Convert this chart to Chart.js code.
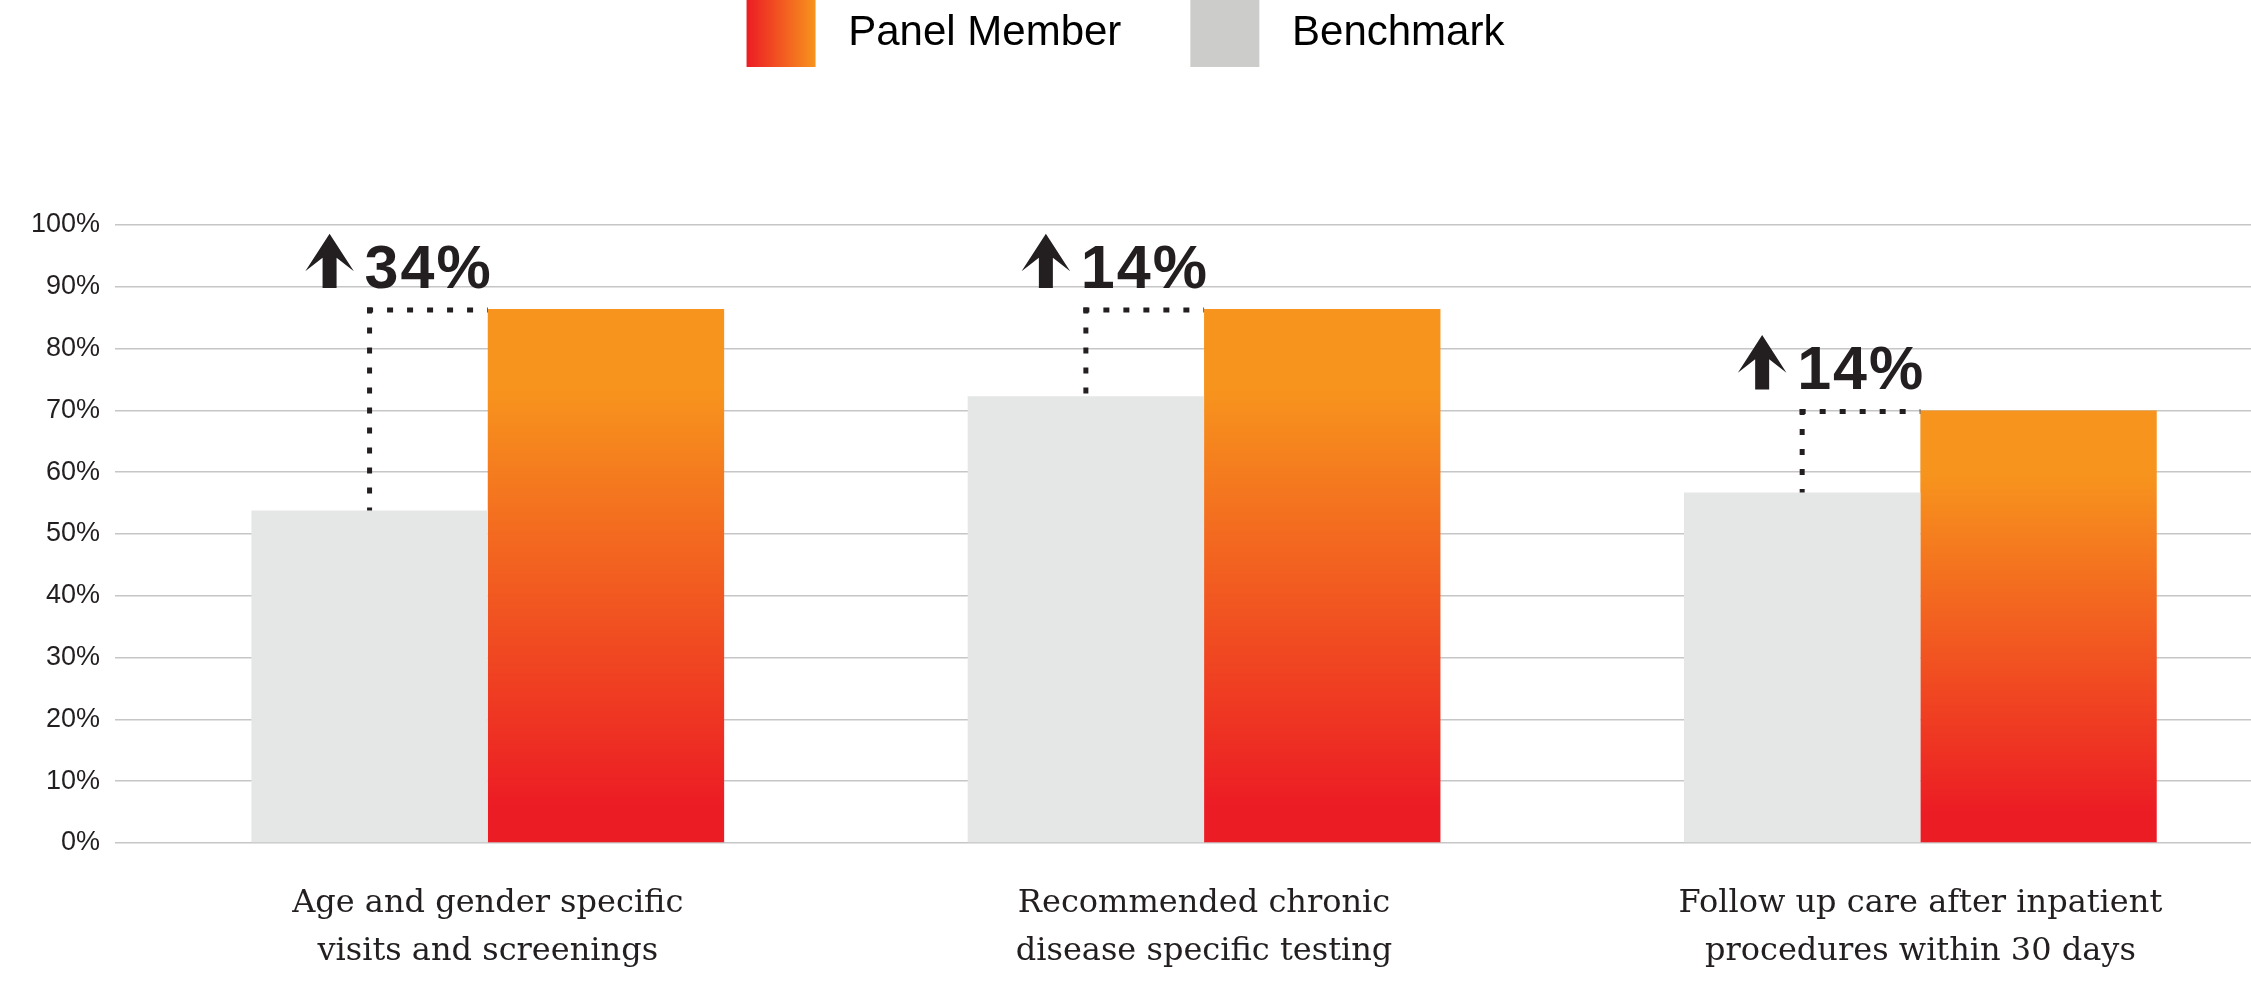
<!DOCTYPE html>
<html>
<head>
<meta charset="utf-8">
<style>
html,body{margin:0;padding:0;background:#ffffff;overflow:hidden}
#wrap{position:relative;width:2251px;height:983px}
</style>
<script src="https://cdn.jsdelivr.net/npm/chart.js@4.4.1/dist/chart.umd.min.js"></script>
</head>
<body>
<div id="wrap"><canvas id="c"></canvas></div>
<script>
// ---- data ----
const categories = [
  ['Age and gender specific', 'visits and screenings'],
  ['Recommended chronic', 'disease specific testing'],
  ['Follow up care after inpatient', 'procedures within 30 days']
];
const seriesNames = ['Panel Member', 'Benchmark'];
const benchmarkValues = [53.8, 72.3, 56.7];
const panelValues = [86.4, 86.4, 70.0];
const changeLabels = ['34%', '14%', '14%'];
const yTickValues = [0, 10, 20, 30, 40, 50, 60, 70, 80, 90, 100];

// ---- styles ----
const ORANGE = '#f7941d';
const RED = '#ec1c24';
const BAR_GREY = '#e5e7e6';
const LEGEND_GREY = '#cccccb';
const DARK = '#231f20';
const GRID = '#c6c6c6';

function panelGradient(ctx) {
  const chart = ctx.chart;
  if (!chart.chartArea || ctx.type !== 'data') return ORANGE;
  const ys = chart.scales.y;
  const top = ys.getPixelForValue(ctx.raw.y);
  const bottom = ys.getPixelForValue(0);
  const g = chart.ctx.createLinearGradient(0, top, 0, bottom);
  g.addColorStop(0, ORANGE);
  g.addColorStop(0.15, ORANGE);
  g.addColorStop(0.93, RED);
  g.addColorStop(1, RED);
  return g;
}

const annotPlugin = {
  id: 'annot',
  afterLayout(chart) {
    const l = chart.legend;
    if (l) {
      const p = l.options.labels.padding;
      const d = l.top + p;   // put the legend swatches at the very top edge
      l.top -= d; l.bottom -= d;
    }
  },
  beforeDraw(chart) {
    const l = chart.legend;
    if (!l || !l.legendHitBoxes || !l.legendHitBoxes.length || !l.legendItems) return;
    const hb = l.legendHitBoxes[0];
    const bw = l.options.labels.boxWidth;
    const g = chart.ctx.createLinearGradient(hb.left, 0, hb.left + bw, 0);
    g.addColorStop(0, RED);
    g.addColorStop(1, ORANGE);
    l.legendItems[0].fillStyle = g;
  },
  afterDatasetsDraw(chart) {
    const ctx = chart.ctx;
    const bm = chart.getDatasetMeta(0).data;
    const pm = chart.getDatasetMeta(1).data;
    ctx.save();
    bm.forEach((gb, i) => {
      const pb = pm[i];
      if (!pb) return;
      const cx = gb.x;
      const lineY = pb.y + 1;
      const panelLeft = pb.x - pb.width / 2;
      // dotted connector
      ctx.strokeStyle = DARK;
      ctx.lineWidth = 5;
      ctx.lineCap = 'butt';
      ctx.setLineDash([6, 14]);
      ctx.beginPath();
      ctx.moveTo(cx, lineY - 2.5);
      ctx.lineTo(cx, gb.y);
      ctx.stroke();
      ctx.beginPath();
      ctx.moveTo(cx - 2.5, lineY);
      ctx.lineTo(panelLeft, lineY);
      ctx.stroke();
      ctx.setLineDash([]);
      // arrow
      const ax = cx - 40;
      const tip = pb.y - 75.4;
      const outer = pb.y - 37.7;
      const inner = pb.y - 51.2;
      const bottom = pb.y - 21;
      ctx.fillStyle = DARK;
      ctx.beginPath();
      ctx.moveTo(ax, tip);
      ctx.lineTo(ax + 24.3, outer);
      ctx.lineTo(ax + 7, inner);
      ctx.lineTo(ax + 7, bottom);
      ctx.lineTo(ax - 7, bottom);
      ctx.lineTo(ax - 7, inner);
      ctx.lineTo(ax - 24.3, outer);
      ctx.closePath();
      ctx.fill();
      // label
      ctx.font = 'bold 61px "Liberation Sans", Arial, sans-serif';
      if ('letterSpacing' in ctx) ctx.letterSpacing = '2px';
      ctx.textAlign = 'left';
      ctx.textBaseline = 'alphabetic';
      ctx.fillText(changeLabels[i], cx - 5, pb.y - 21.5);
      if ('letterSpacing' in ctx) ctx.letterSpacing = '0px';
    });
    ctx.restore();
  }
};

function draw() {
  Chart.defaults.font.family = '"Liberation Sans", Arial, sans-serif';
  Chart.defaults.color = DARK;
  new Chart(document.getElementById('c'), {
    type: 'bar',
    data: {
      datasets: [
        {
          label: seriesNames[1],
          data: benchmarkValues.map((v, i) => ({ x: i, y: v })),
          backgroundColor: BAR_GREY,
          borderWidth: 0
        },
        {
          label: seriesNames[0],
          data: panelValues.map((v, i) => ({ x: i, y: v })),
          backgroundColor: panelGradient,
          borderWidth: 0
        }
      ]
    },
    options: {
      responsive: true,
      maintainAspectRatio: false,
      devicePixelRatio: 1,
      animation: false,
      events: [],
      layout: { padding: { top: 79, left: 0, right: 0, bottom: 0 } },
      datasets: { bar: { categoryPercentage: 0.66, barPercentage: 1.0 } },
      plugins: {
        tooltip: { enabled: false },
        title: { display: false },
        legend: {
          display: true,
          position: 'top',
          align: 'center',
          labels: {
            boxWidth: 69,
            boxHeight: 67,
            padding: 69,
            color: '#000000',
            font: { size: 42, family: '"Liberation Sans", Arial, sans-serif' },
            generateLabels: () => [
              { text: ' ' + seriesNames[0], fillStyle: ORANGE, strokeStyle: 'rgba(0,0,0,0)', lineWidth: 0, hidden: false, datasetIndex: 1, fontColor: '#000000' },
              { text: ' ' + seriesNames[1], fillStyle: LEGEND_GREY, strokeStyle: 'rgba(0,0,0,0)', lineWidth: 0, hidden: false, datasetIndex: 0, fontColor: '#000000' }
            ]
          }
        }
      },
      scales: {
        x: {
          type: 'linear',
          offset: false,
          min: -0.5204,
          max: 2.4616,
          grid: { display: false, offset: false },
          border: { display: false },
          afterBuildTicks: (s) => { s.ticks = categories.map((_, i) => ({ value: i })); },
          afterFit: (s) => { s.height = 140; },
          ticks: {
            autoSkip: false,
            maxRotation: 0,
            minRotation: 0,
            padding: 29,
            color: DARK,
            font: { family: '"DejaVu Serif", serif', size: 32, lineHeight: 1.5 },
            callback: (v) => categories[v]
          }
        },
        y: {
          min: 0,
          max: 100,
          grid: { color: GRID, lineWidth: 1.5, drawTicks: false },
          border: { display: false },
          afterBuildTicks: (s) => { s.ticks = yTickValues.map(v => ({ value: v })); },
          afterFit: (s) => { s.width = 115; },
          ticks: {
            padding: 15,
            color: DARK,
            font: { size: 27, family: '"Liberation Sans", Arial, sans-serif' },
            callback: (v) => v + '%'
          }
        }
      }
    },
    plugins: [annotPlugin]
  });
}

if (document.fonts && document.fonts.load) {
  Promise.all([
    document.fonts.load('32px "DejaVu Serif"'),
    document.fonts.load('42px "Liberation Sans"'),
    document.fonts.load('bold 61px "Liberation Sans"')
  ]).then(draw, draw);
} else {
  draw();
}
</script>
</body>
</html>
